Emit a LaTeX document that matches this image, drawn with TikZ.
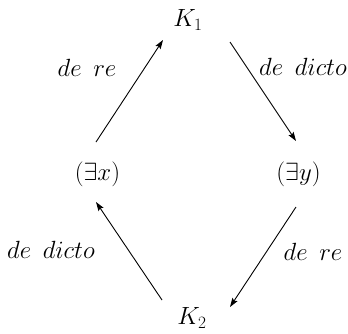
\documentclass[tikz,border=0pt]{standalone}
\usepackage{amsmath,amssymb}
\usetikzlibrary{arrows.meta,calc}

\begin{document}
\begin{tikzpicture}[
        x=1pt, y=-1pt,
        world/.style={font=\fontsize{25}{29}\selectfont, inner sep=0pt},
        lbl/.style={font=\fontsize{25}{29}\selectfont, inner sep=0pt},
        arr/.style={line width=0.9pt, -{Stealth[length=9pt, width=6pt, inset=1.5pt]}}
    ]
        \useasboundingbox (0,0) rectangle (348,333);

        % Worlds
        \node[world] (k1) at (188,20) {$K_1$};
        \node[world] (ex) at (97.5,174) {$(\exists x)$};
        \node[world] (ey) at (298.5,174) {$(\exists y)$};
        \node[world] (k2) at (192,318) {$K_2$};

        % Arrows
        \draw[arr] ($(ex)+(-1.5,-32)$) -- ($(k1)+(-25,20)$);
        \draw[arr] ($(k1)+(42,22)$) -- ($(ey)+(-2.5,-33)$);
        \draw[arr] ($(ey)+(-2.5,33)$) -- ($(k2)+(38,-11)$);
        \draw[arr] ($(k2)+(-30,-18)$) -- ($(ex)+(-1.5,28)$);

        % Labels
        \node[lbl] (l1) at (87,68) {$de\ \,re$};
        \node[lbl] (l2) at (303,67) {$de\ \,dicto$};
        \node[lbl] (l3) at (51,250) {$de\ \,dicto$};
        \node[lbl] (l4) at (313,252) {$de\ \,re$};
    \end{tikzpicture}
\end{document}
